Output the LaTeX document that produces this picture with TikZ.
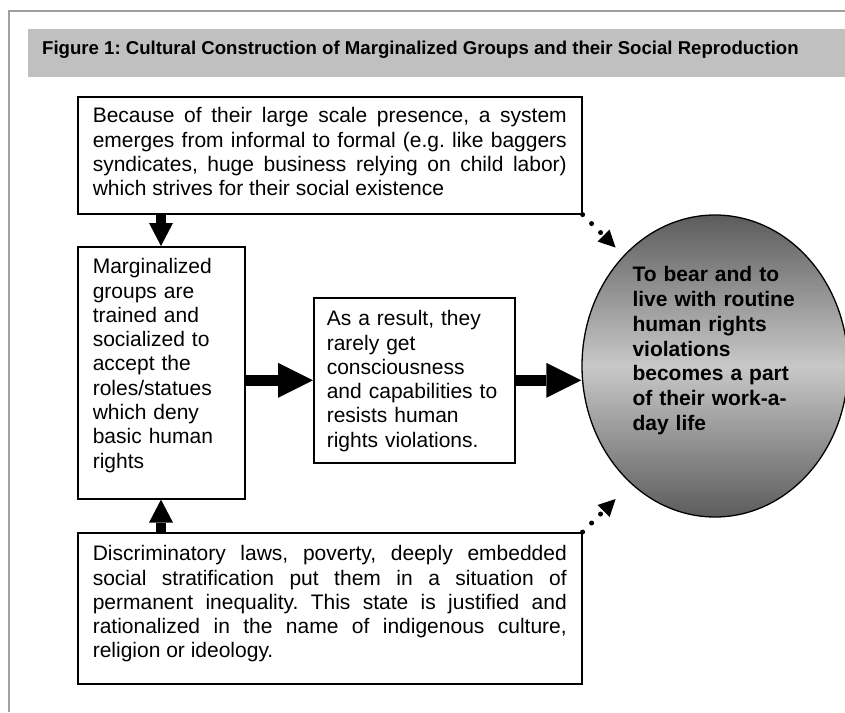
\documentclass[tikz,border=0pt]{standalone}
\usepackage{fontspec}
\setmainfont{Liberation Sans}
\usetikzlibrary{arrows.meta,shapes.geometric,calc}
\tolerance=10000
\hbadness=10000
\hfuzz=3pt
\frenchspacing
\definecolor{framegray}{HTML}{A0A0A0}
\definecolor{bargray}{HTML}{C0C0C0}
\definecolor{balldark}{HTML}{5C5C5C}
\definecolor{balllight}{HTML}{C8C8C8}
\newcommand\myBody{\fontsize{21pt}{24.3pt}\selectfont}
\newcommand\myGoal{\fontsize{21pt}{24.7pt}\selectfont\bfseries}
\newcommand\myTitle{\fontsize{18.6pt}{22pt}\selectfont\bfseries}
\tikzset{
  box/.style={draw=black, line width=1.6pt, fill=white, anchor=north west,
    inner xsep=15pt, inner ysep=0pt, font=\myBody},
  jbox/.style={box, align=justify, text width=474pt},
  varrow/.style={line width=10pt, -{Triangle[length=23pt,width=24pt,line width=0pt]}},
  harrow/.style={line width=11pt, -{Triangle[length=35pt,width=35pt,line width=0pt]}},
  dotarrow/.style={line width=5pt, line cap=round, dash pattern=on 0pt off 12.7pt,
    -{Triangle[length=17pt,width=17pt,line width=0pt]}},
}
\begin{document}
\begin{tikzpicture}[x=1pt,y=-1pt]
\useasboundingbox (0,0) rectangle (845,712);
% frame and title bar
\draw[framegray, line width=1.7pt] (9,712) -- (9,11) -- (845,11);
\fill[bargray] (28,29) rectangle (845,77);
\node[anchor=base west, inner sep=0pt, font=\myTitle] (title) at (42,54)
  {Figure 1: Cultural Construction of Marginalized Groups and their Social Reproduction};
% boxes
\node[jbox, minimum height=117pt, text depth=80.3pt] (topbox) at (77,96)
  {Because of their large scale presence, a system\linebreak
   emerges from informal to formal (e.g. like baggers\linebreak
   syndicates, huge business relying on child labor)\linebreak
   which strives for their social existence};
\node[box, align=left, text width=137pt, minimum height=252pt, text depth=213.3pt] (leftbox) at (77,246)
  {Marginalized\\groups are\\trained and\\socialized to\\accept the\\roles/statues\\which deny\\basic human\\rights};
\node[box, align=left, inner xsep=13pt, text width=175pt, minimum height=165pt, text depth=124.3pt] (midbox) at (313,297)
  {As a result, they\\rarely get\\consciousness\\and capabilities to\\resists human\\rights violations.};
\node[jbox, minimum height=151pt, text depth=110.3pt] (botbox) at (77,532)
  {Discriminatory laws, poverty, deeply embedded\linebreak
   social stratification put them in a situation of\linebreak
   permanent inequality. This state is justified and\linebreak
   rationalized in the name of indigenous culture,\linebreak
   religion or ideology.};
% goal ellipse
\node[ellipse, draw=black, line width=1.3pt, minimum width=266pt, minimum height=302pt,
  inner sep=0pt, top color=balldark, bottom color=balldark, middle color=balllight,
  text width=165pt, align=left, text depth=183.3pt, font=\myGoal] (goal) at (715,366)
  {To bear and to\\live with routine\\human rights\\violations\\becomes a part\\of their work-a-\\day life};
% connectors
\draw[varrow] ([xshift=84pt]topbox.south west) -- ([xshift=84pt]leftbox.north west);
\draw[varrow] ([xshift=84pt]botbox.north west) -- ([xshift=84pt]leftbox.south west);
\draw[harrow] (leftbox.east |- midbox.center) -- (midbox.west);
\draw[harrow] (midbox.east) -- (midbox.east -| goal.west);
\coordinate (d1) at ([shift={(33pt,-33pt)}]topbox.south east);
\coordinate (d2) at ([shift={(33pt,33pt)}]botbox.north east);
\draw[dotarrow] (topbox.south east) -- (d1);
\draw[dotarrow] (botbox.north east) -- (d2);
\end{tikzpicture}
\end{document}
